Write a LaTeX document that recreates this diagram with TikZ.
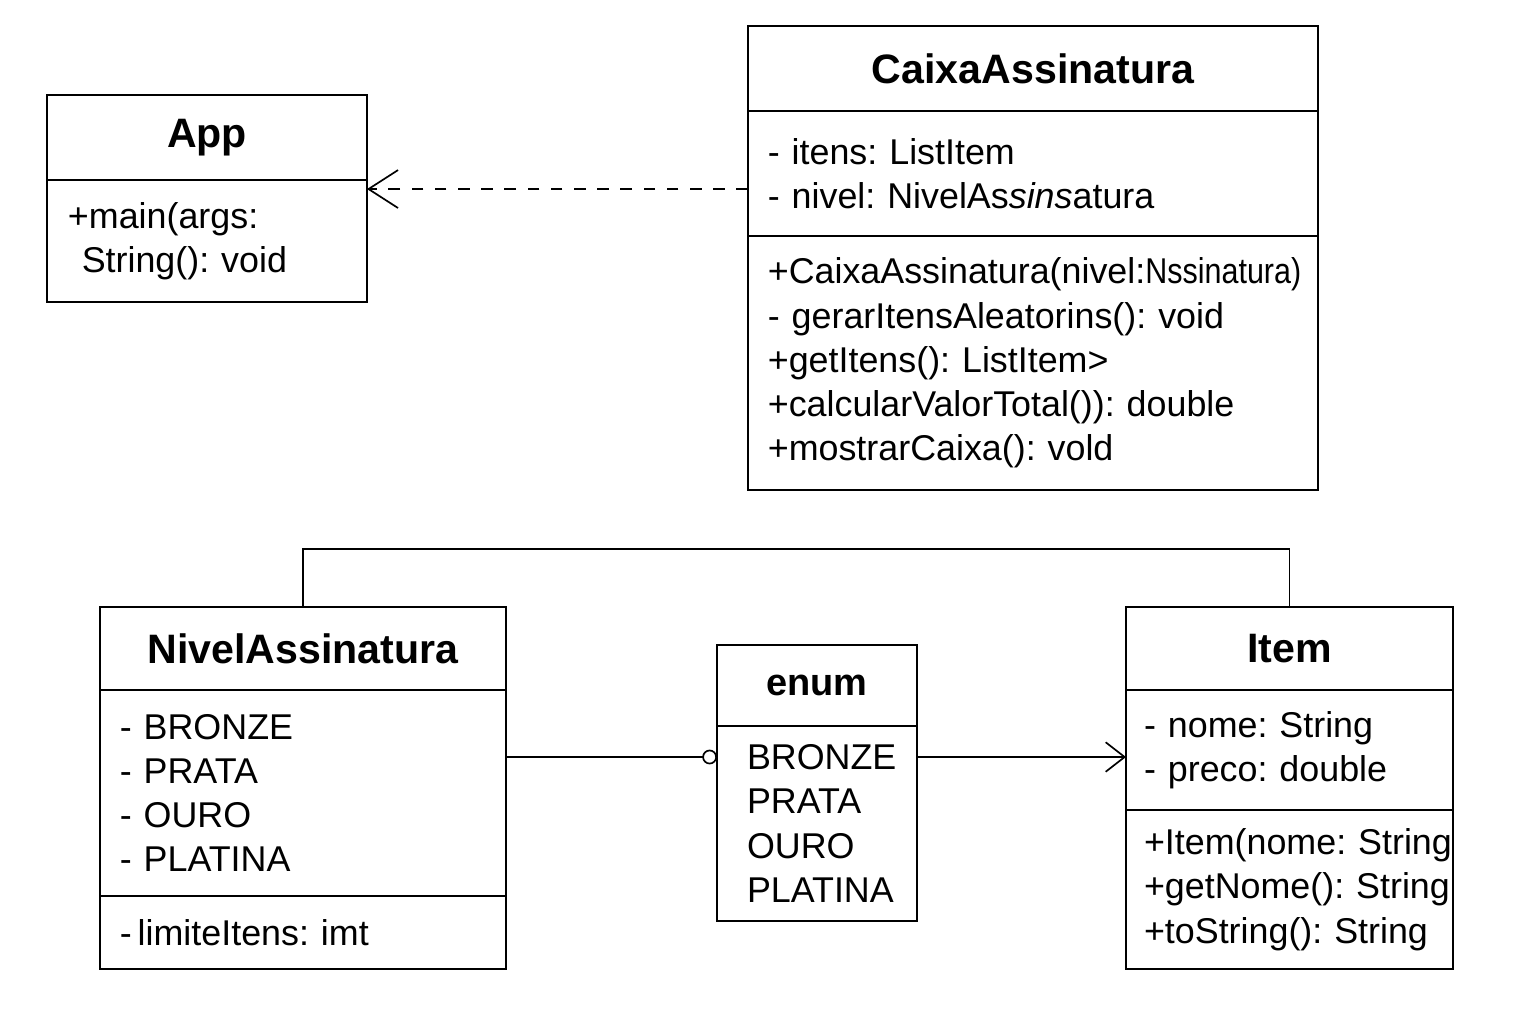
\documentclass[tikz,border=0pt]{standalone}
\usepackage{fontspec}
\setmainfont{Liberation Sans}
\usepackage{graphicx}
\usetikzlibrary{arrows.meta, positioning, calc}
\frenchspacing
\tikzset{
  ctitle/.style={draw=black, line width=1pt, anchor=north west, inner sep=0pt,
                 outer sep=0pt, font=\fontsize{19.5}{23}\selectfont\bfseries},
  cbody/.style={draw=black, line width=1pt, align=left, inner ysep=0pt,
                outer sep=0pt, font=\fontsize{17}{21}\selectfont},
  dep/.style={-{Straight Barb[length=14pt, width=18pt]}, line width=0.8pt,
              dash pattern=on 5.5pt off 5.5pt},
  nav/.style={-{Straight Barb[length=9pt, width=14pt]}, line width=0.8pt},
  assoc/.style={-{Circle[open, length=7pt, width=7pt]}, line width=0.8pt},
  link/.style={line width=0.8pt},
}

\begin{document}
\begin{tikzpicture}
  \useasboundingbox (0,0) rectangle (25.6,17.067);

  % Class: App
  \node[ctitle, minimum width=5.333cm, minimum height=1.417cm] (app) at (0.783,15.483) {App};
  \node[cbody, below=0pt of app, inner xsep=0.35cm, text width=4.633cm,
        minimum height=2.033cm] (app-ops)
    {+main(args:\\\hspace*{0.23cm}String(): void};

  % Class: CaixaAssinatura
  \node[ctitle, minimum width=9.5cm, minimum height=1.417cm] (caixa) at (12.467,16.633) {CaixaAssinatura};
  \node[cbody, below=0pt of caixa, inner xsep=0.33cm, text width=8.84cm,
        minimum height=2.083cm] (caixa-attr)
    {- itens: ListItem\\- nivel: NivelAs\textit{sins}atura};
  \node[cbody, below=0pt of caixa-attr, inner xsep=0.33cm, text width=8.84cm,
        minimum height=4.233cm] (caixa-ops)
    {+CaixaAssinatura(nivel:\scalebox{0.85}[1]{Nssinatura)}\\
     - gerarItensAleatorins(): void\\
     +getItens(): ListItem>\\
     +calcularValorTotal()): double\\
     +mostrarCaixa(): vold};

  % Class: NivelAssinatura
  \node[ctitle, minimum width=6.767cm, minimum height=1.383cm] (nivel) at (1.667,6.95) {NivelAssinatura};
  \node[cbody, below=0pt of nivel, inner xsep=0.33cm, text width=6.107cm,
        minimum height=3.433cm] (nivel-attr)
    {- BRONZE\\- PRATA\\- OURO\\- PLATINA};
  \node[cbody, below=0pt of nivel-attr, inner xsep=0.33cm, text width=6.107cm,
        minimum height=1.217cm] (nivel-ops)
    {-\,limiteItens: imt};

  % enum
  \node[ctitle, font=\fontsize{18}{22}\selectfont\bfseries,
        minimum width=3.333cm, minimum height=1.35cm] (enum) at (11.95,6.317) {enum};
  \node[cbody, below=0pt of enum, inner xsep=0.5cm, text width=2.333cm,
        minimum height=3.25cm] (enum-vals)
    {BRONZE\\PRATA\\OURO\\PLATINA};

  % Class: Item
  \node[ctitle, minimum width=5.45cm, minimum height=1.383cm] (item) at (18.767,6.95) {Item};
  \node[cbody, below=0pt of item, inner xsep=0.3cm, text width=4.85cm,
        minimum height=2cm] (item-attr)
    {- nome: String\\- preco: double};
  \node[cbody, below=0pt of item-attr, inner xsep=0.3cm, text width=4.85cm,
        minimum height=2.65cm] (item-ops)
    {+Item(nome:~String\\+getNome():~String\\+toString():~String};

  % Dependency CaixaAssinatura -> App
  \coordinate (dep-end) at ($(app-ops.north east)+(0,-0.15)$);
  \draw[dep] (caixa-attr.west |- dep-end) -- (dep-end);

  % NivelAssinatura -- enum -- Item
  \coordinate (mid) at ($(enum-vals.north west)+(0,-0.517)$);
  \draw[assoc] (nivel-attr.east |- mid) -- (mid);
  \draw[nav] (enum-vals.east |- mid) -- (item-attr.west |- mid);

  % Top link NivelAssinatura -- Item
  \draw[link] (nivel.north) -- ++(0,0.967) -| (item.north);

\end{tikzpicture}
\end{document}
